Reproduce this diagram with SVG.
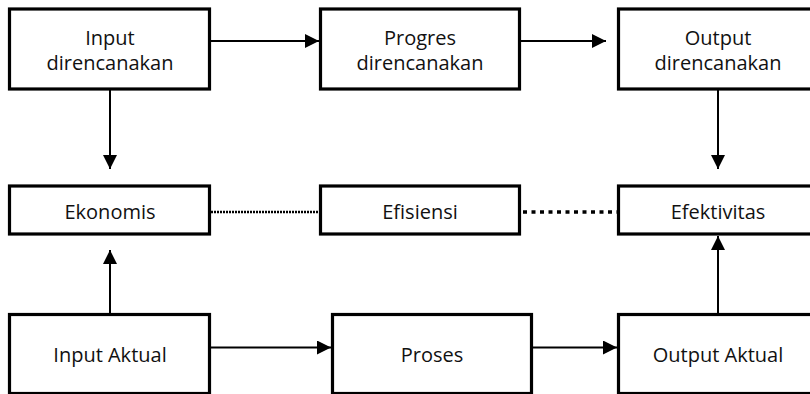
<svg xmlns="http://www.w3.org/2000/svg" width="810" height="394" viewBox="0 0 810 394">
  <style>
    .box { fill: #ffffff; stroke: #000000; stroke-width: 3.2; }
    .lbl { font-family: "Open Sans", "Liberation Sans", sans-serif; font-size: 20px; fill: #111111; text-anchor: middle; }
    .wire { stroke: #000000; stroke-width: 2; fill: none; }
    .dotted-fine { stroke: #000000; stroke-width: 2.6; stroke-dasharray: 2 1; fill: none; }
    .dotted-bold { stroke: #000000; stroke-width: 3.4; stroke-dasharray: 4 4.5; fill: none; }
  </style>
  <defs>
    <marker id="head" viewBox="0 0 14 14" refX="14" refY="7" markerWidth="14" markerHeight="14" markerUnits="userSpaceOnUse" orient="auto">
      <path d="M0,0 L14,7 L0,14 Z" fill="#000000"/>
    </marker>
  </defs>

  <rect width="810" height="394" fill="#ffffff"/>

  <!-- connectors -->
  <g id="connectors">
    <line class="wire" x1="211" y1="41" x2="319" y2="41" marker-end="url(#head)"/>
    <line class="wire" x1="521" y1="41" x2="606" y2="41" marker-end="url(#head)"/>
    <line class="wire" x1="110" y1="90" x2="110" y2="169" marker-end="url(#head)"/>
    <line class="wire" x1="718" y1="90" x2="718" y2="169" marker-end="url(#head)"/>
    <line class="wire" x1="110" y1="313" x2="110" y2="250" marker-end="url(#head)"/>
    <line class="wire" x1="718" y1="313" x2="718" y2="236" marker-end="url(#head)"/>
    <line class="wire" x1="211" y1="347.5" x2="331" y2="347.5" marker-end="url(#head)"/>
    <line class="wire" x1="533" y1="347.5" x2="617" y2="347.5" marker-end="url(#head)"/>
    <line class="dotted-fine" x1="211" y1="212" x2="319" y2="212"/>
    <line class="dotted-bold" x1="523" y1="212" x2="617" y2="212"/>
  </g>

  <!-- planned row -->
  <g id="input-direncanakan">
    <rect class="box" x="9.5" y="9" width="200" height="80"/>
    <text class="lbl" x="110" y="45">Input</text>
    <text class="lbl" x="110" y="70">direncanakan</text>
  </g>
  <g id="progres-direncanakan">
    <rect class="box" x="320.5" y="9" width="199" height="80"/>
    <text class="lbl" x="420" y="45">Progres</text>
    <text class="lbl" x="420" y="70">direncanakan</text>
  </g>
  <g id="output-direncanakan">
    <rect class="box" x="618.5" y="9" width="199" height="80"/>
    <text class="lbl" x="718" y="45">Output</text>
    <text class="lbl" x="718" y="70">direncanakan</text>
  </g>

  <!-- measures row -->
  <g id="ekonomis">
    <rect class="box" x="9.5" y="186" width="200" height="48"/>
    <text class="lbl" x="110" y="218.5">Ekonomis</text>
  </g>
  <g id="efisiensi">
    <rect class="box" x="320.5" y="186" width="199" height="48"/>
    <text class="lbl" x="420" y="218.5">Efisiensi</text>
  </g>
  <g id="efektivitas">
    <rect class="box" x="618.5" y="186" width="199" height="48"/>
    <text class="lbl" x="718" y="218.5">Efektivitas</text>
  </g>

  <!-- actual row -->
  <g id="input-aktual">
    <rect class="box" x="9.5" y="314.5" width="200" height="79"/>
    <text class="lbl" x="110" y="361.5">Input Aktual</text>
  </g>
  <g id="proses">
    <rect class="box" x="332.5" y="314.5" width="199" height="79"/>
    <text class="lbl" x="432" y="361.5">Proses</text>
  </g>
  <g id="output-aktual">
    <rect class="box" x="618.5" y="314.5" width="199" height="79"/>
    <text class="lbl" x="718" y="361.5">Output Aktual</text>
  </g>
</svg>
